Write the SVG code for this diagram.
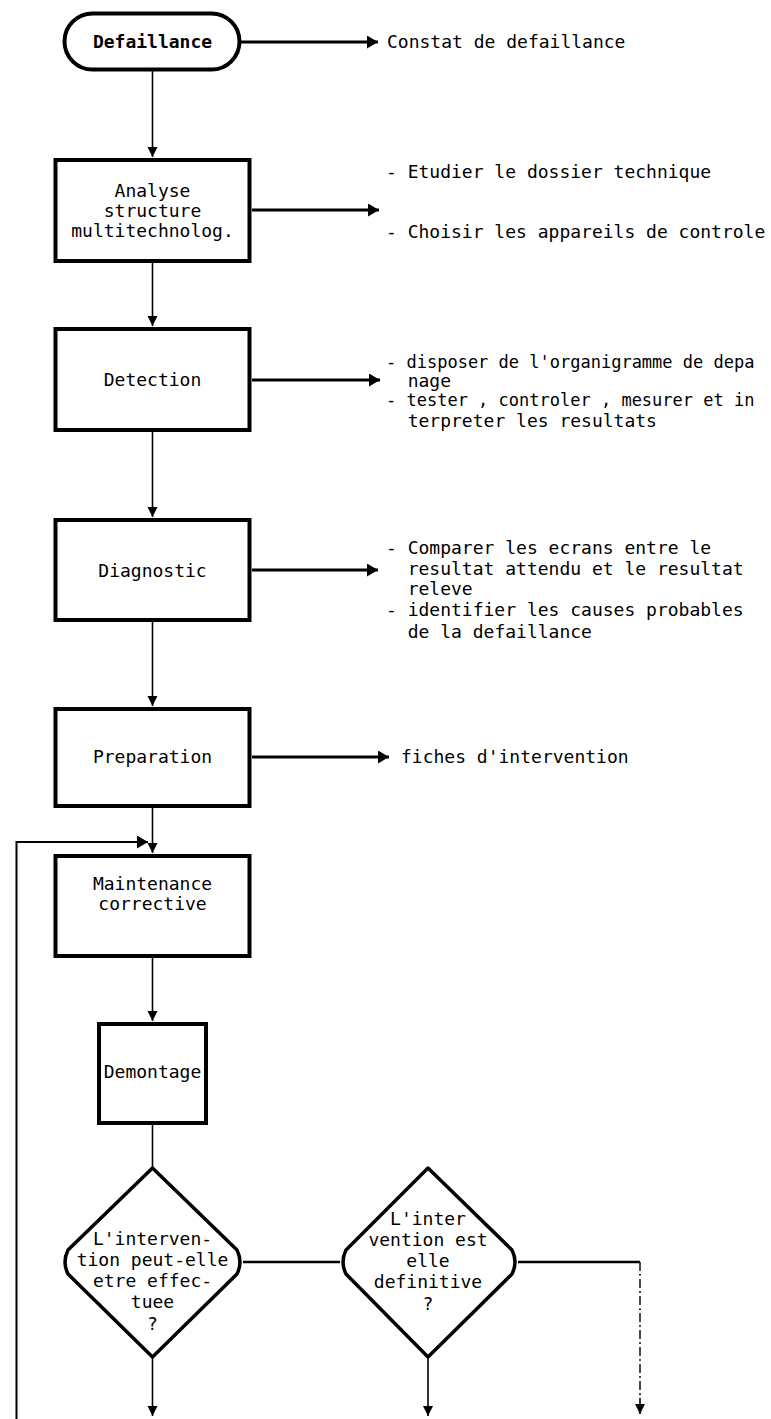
<svg xmlns="http://www.w3.org/2000/svg" width="771" height="1419" viewBox="0 0 771 1419">
  <style>
    text { font-family: "DejaVu Sans Mono", "Liberation Mono", monospace; font-size: 18px; fill: #000; }
    .c { text-anchor: middle; }
    .b { font-weight: bold; }
    .long { font-size: 17px; }
    .box { fill: #fff; stroke: #000; stroke-width: 4; }
    .dia { fill: #fff; stroke: #000; stroke-width: 3.5; stroke-linejoin: round; }
    .thin { fill: none; stroke: #000; stroke-width: 1.6; }
    .thick { fill: none; stroke: #000; stroke-width: 3; }
    .mid { fill: none; stroke: #000; stroke-width: 2.5; }
    .loop { fill: none; stroke: #000; stroke-width: 2; }
    .dash { fill: none; stroke: #000; stroke-width: 1.4; stroke-dasharray: 9 3 2 3; }
  </style>
  <defs>
    <marker id="down" markerWidth="10" markerHeight="16" refX="10" refY="5" orient="auto" markerUnits="userSpaceOnUse" viewBox="0 0 10 10">
      <path d="M0,0 L10,5 L0,10 Z" fill="#000"/>
    </marker>
    <marker id="right" markerWidth="11" markerHeight="13" refX="10" refY="5" orient="auto" markerUnits="userSpaceOnUse" viewBox="0 0 10 10" preserveAspectRatio="none">
      <path d="M0,0 L10,5 L0,10 Z" fill="#000"/>
    </marker>
  </defs>
  <rect width="771" height="1419" fill="#fff"/>

  <g id="connectors">
    <!-- main vertical flow -->
    <path class="thin" d="M152.5,71 V157" marker-end="url(#down)"/>
    <path class="thin" d="M152.5,263 V326" marker-end="url(#down)"/>
    <path class="thin" d="M152.5,432 V517" marker-end="url(#down)"/>
    <path class="thin" d="M152.5,622 V706" marker-end="url(#down)"/>
    <path class="thin" d="M152.5,808 V853" marker-end="url(#down)"/>
    <path class="thin" d="M152.5,958 V1021" marker-end="url(#down)"/>
    <path class="thin" d="M152.5,1125 V1168"/>
    <!-- outputs to the right -->
    <path class="thick" d="M241,42 H378" marker-end="url(#right)"/>
    <path class="thick" d="M252,210 H379" marker-end="url(#right)"/>
    <path class="thick" d="M252,380 H380" marker-end="url(#right)"/>
    <path class="thick" d="M252,570 H378" marker-end="url(#right)"/>
    <path class="thick" d="M252,757 H389" marker-end="url(#right)"/>
    <!-- return loop into maintenance -->
    <path class="loop" d="M16.5,1419 V842 H148" marker-end="url(#right)"/>
    <!-- decision branches -->
    <path class="mid" d="M243,1262 H340"/>
    <path class="mid" d="M518,1262 H640"/>
    <path class="dash" d="M640,1262 V1398"/>
    <path class="thin" d="M640,1398 V1414" marker-end="url(#down)"/>
    <path class="thin" d="M152.5,1357 V1416" marker-end="url(#down)"/>
    <path class="thin" d="M428,1357 V1416" marker-end="url(#down)"/>
  </g>

  <g id="defaillance">
    <rect class="box" x="64.5" y="13.5" width="175" height="56" rx="28" ry="28" stroke-width="3.5"/>
    <text class="c b" x="152.5" y="48">Defaillance</text>
  </g>
  <g id="constat">
    <text x="387" y="48">Constat de defaillance</text>
  </g>

  <g id="analyse">
    <rect class="box" x="55.5" y="160" width="194" height="101"/>
    <text class="c" x="152.5" y="197">Analyse</text>
    <text class="c" x="152.5" y="217">structure</text>
    <text class="c" x="152.5" y="237">multitechnolog.</text>
  </g>
  <g id="analyse-actions">
    <text x="386" y="178">- Etudier le dossier technique</text>
    <text x="386" y="238">- Choisir les appareils de controle</text>
  </g>

  <g id="detection">
    <rect class="box" x="55.5" y="329" width="194" height="101"/>
    <text class="c" x="152.5" y="386">Detection</text>
  </g>
  <g id="detection-actions">
    <text class="long" x="386" y="368">- disposer de l'organigramme de depa</text>
    <text x="407.7" y="387">nage</text>
    <text class="long" x="386" y="406">- tester , controler , mesurer et in</text>
    <text x="407.7" y="427">terpreter les resultats</text>
  </g>

  <g id="diagnostic">
    <rect class="box" x="55.5" y="520" width="194" height="100"/>
    <text class="c" x="152.5" y="577">Diagnostic</text>
  </g>
  <g id="diagnostic-actions">
    <text x="386" y="554">- Comparer les ecrans entre le</text>
    <text x="407.7" y="575">resultat attendu et le resultat</text>
    <text x="407.7" y="595">releve</text>
    <text x="386" y="616">- identifier les causes probables</text>
    <text x="407.7" y="638">de la defaillance</text>
  </g>

  <g id="preparation">
    <rect class="box" x="55.5" y="709" width="194" height="97"/>
    <text class="c" x="152.5" y="763">Preparation</text>
  </g>
  <g id="fiches">
    <text x="401" y="763">fiches d'intervention</text>
  </g>

  <g id="maintenance">
    <rect class="box" x="55.5" y="856" width="194" height="100"/>
    <text class="c" x="152.5" y="890">Maintenance</text>
    <text class="c" x="152.5" y="910">corrective</text>
  </g>

  <g id="demontage">
    <rect class="box" x="99" y="1024" width="107" height="99"/>
    <text class="c" x="152.5" y="1078">Demontage</text>
  </g>

  <g id="decision-possible">
    <path class="dia" d="M152.5,1168 L237,1250 Q243,1262 237,1274 L152.5,1357 L68,1274 Q62,1262 68,1250 Z"/>
    <text class="c" x="152.5" y="1245">L'interven-</text>
    <text class="c" x="152.5" y="1266">tion peut-elle</text>
    <text class="c" x="152.5" y="1287">etre effec-</text>
    <text class="c" x="152.5" y="1308">tuee</text>
    <text class="c" x="152.5" y="1330">?</text>
  </g>

  <g id="decision-definitive">
    <path class="dia" d="M428,1168 L512,1250 Q518,1262 512,1274 L428,1357 L346,1274 Q340,1262 346,1250 Z"/>
    <text class="c" x="428" y="1225">L'inter</text>
    <text class="c" x="428" y="1246">vention est</text>
    <text class="c" x="428" y="1267">elle</text>
    <text class="c" x="428" y="1288">definitive</text>
    <text class="c" x="428" y="1310">?</text>
  </g>
</svg>
